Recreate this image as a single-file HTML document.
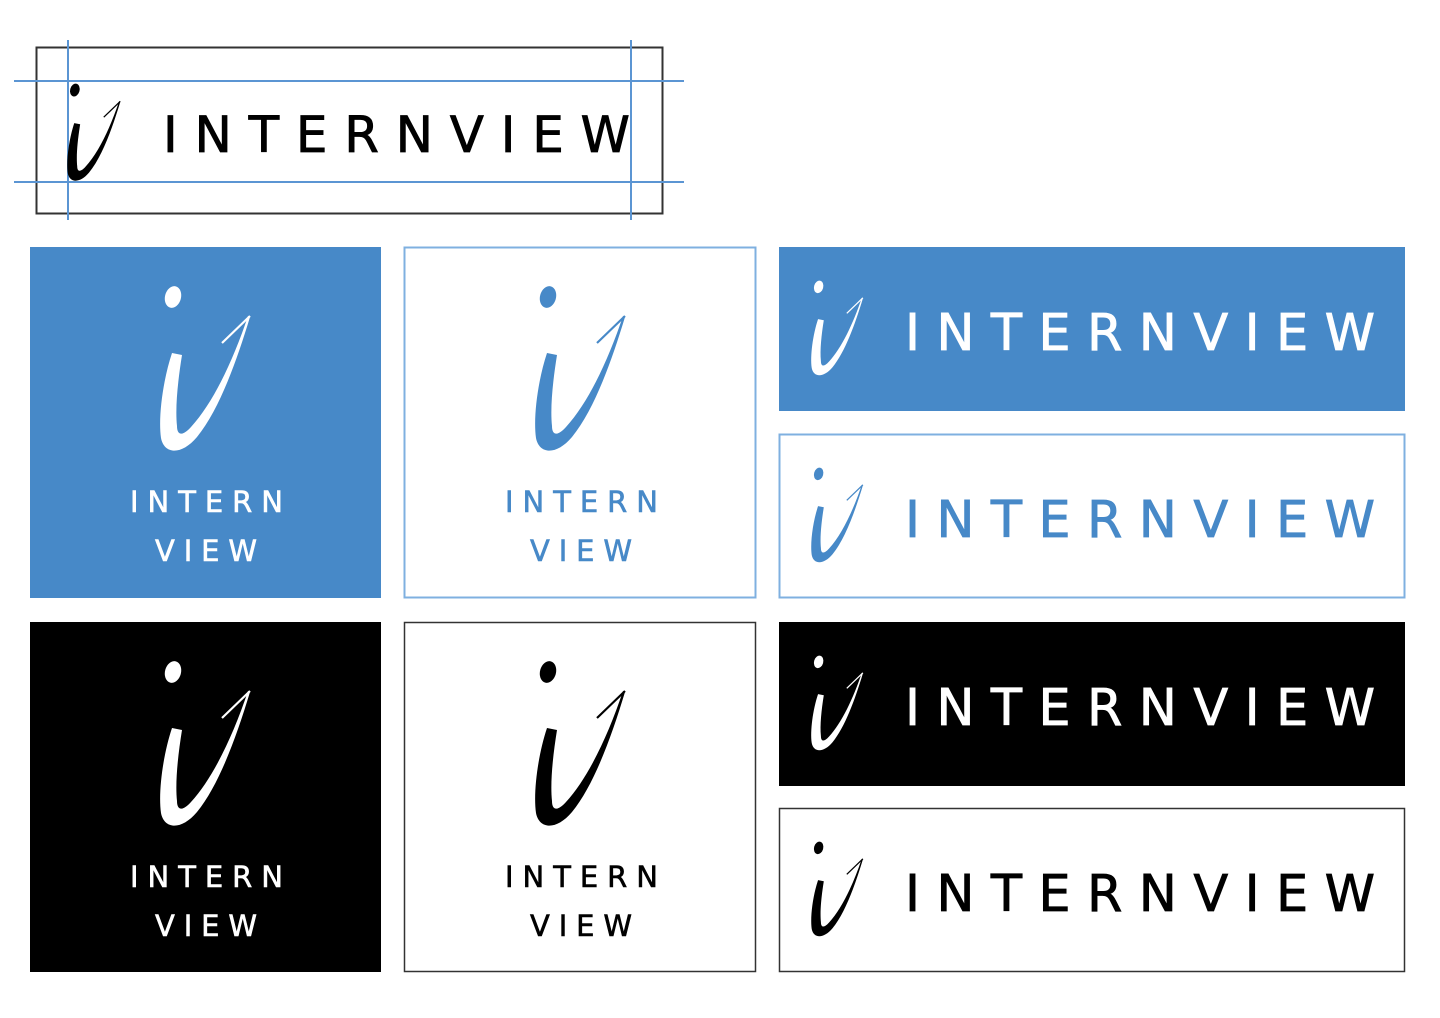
<!DOCTYPE html>
<html><head><meta charset="utf-8"><style>html,body{margin:0;padding:0;background:#fff}svg{display:block}</style></head>
<body>
<svg width="1440" height="1018" viewBox="0 0 1440 1018" xmlns="http://www.w3.org/2000/svg">
<defs>
<symbol id="g" overflow="visible">
  <ellipse cx="15" cy="12" rx="8" ry="11" transform="rotate(15 15 12)"/>
  <path d="M14 68 C5 95 0 132 3 153 C6 169 23 171 39 152 C61 125 78 78 92 32 L90 31 C75 76 55 118 33 142 C24 152 19 150 19 141 C17 122 20 95 24 70 Z"/>
  <path d="M92 31 L64 58" fill="none" stroke-width="2.2" stroke="currentColor"/>
</symbol>
</defs>
<style>
.t{font-family:"DejaVu Sans","Liberation Sans",sans-serif;}
</style>

<rect x="36.5" y="47.5" width="626" height="166" fill="none" stroke="#333" stroke-width="2"/>
<g stroke="#5b95d3" stroke-width="2">
<line x1="14" y1="81" x2="684" y2="81"/><line x1="14" y1="182" x2="684" y2="182"/>
<line x1="68" y1="40" x2="68" y2="220"/><line x1="631" y1="40" x2="631" y2="220"/>
</g>
<g fill="#000" color="#000" transform="translate(66,83) scale(0.59)"><use href="#g"/></g>
<text class="t" x="163" y="152" font-size="50" textLength="467" lengthAdjust="spacing" stroke="#000" stroke-width="0.8">INTERNVIEW</text>

<rect x="30" y="247" width="351" height="351" fill="#4789c8"/>
<rect x="404.5" y="247.5" width="351" height="350" fill="#fff" stroke="#7fb0e0" stroke-width="2"/>
<rect x="30" y="622" width="351" height="350" fill="#000"/>
<rect x="404.5" y="622.5" width="351" height="349" fill="#fff" stroke="#333" stroke-width="1.5"/>

<g fill="#fff" color="#fff" transform="translate(158,285)"><use href="#g"/></g>
<g fill="#4789c8" color="#4789c8" transform="translate(533,285)"><use href="#g"/></g>
<g fill="#fff" color="#fff" transform="translate(158,660)"><use href="#g"/></g>
<g fill="#000" color="#000" transform="translate(533,660)"><use href="#g"/></g>

<g class="t" font-size="29" stroke-width="0.6">
<text x="130" y="512" fill="#fff" stroke="#fff" textLength="153" lengthAdjust="spacing">INTERN</text>
<text x="155" y="561" fill="#fff" stroke="#fff" textLength="102" lengthAdjust="spacing">VIEW</text>
<text x="505" y="512" fill="#4789c8" stroke="#4789c8" textLength="153" lengthAdjust="spacing">INTERN</text>
<text x="530" y="561" fill="#4789c8" stroke="#4789c8" textLength="102" lengthAdjust="spacing">VIEW</text>
<text x="130" y="887" fill="#fff" stroke="#fff" textLength="153" lengthAdjust="spacing">INTERN</text>
<text x="155" y="936" fill="#fff" stroke="#fff" textLength="102" lengthAdjust="spacing">VIEW</text>
<text x="505" y="887" fill="#000" stroke="#000" textLength="153" lengthAdjust="spacing">INTERN</text>
<text x="530" y="936" fill="#000" stroke="#000" textLength="102" lengthAdjust="spacing">VIEW</text>
</g>

<rect x="779" y="247" width="626" height="164" fill="#4789c8"/>
<rect x="779.5" y="434.5" width="625" height="163" fill="#fff" stroke="#7fb0e0" stroke-width="2"/>
<rect x="779" y="622" width="626" height="164" fill="#000"/>
<rect x="779.5" y="808.5" width="625" height="163" fill="#fff" stroke="#333" stroke-width="1.5"/>

<g fill="#fff" color="#fff" transform="translate(810,280) scale(0.575)"><use href="#g"/></g>
<g fill="#4789c8" color="#4789c8" transform="translate(810,467) scale(0.575)"><use href="#g"/></g>
<g fill="#fff" color="#fff" transform="translate(810,655) scale(0.575)"><use href="#g"/></g>
<g fill="#000" color="#000" transform="translate(810,841) scale(0.575)"><use href="#g"/></g>

<g class="t" font-size="51" stroke-width="0.8">
<text x="905" y="350" fill="#fff" stroke="#fff" textLength="470" lengthAdjust="spacing">INTERNVIEW</text>
<text x="905" y="537" fill="#4789c8" stroke="#4789c8" textLength="470" lengthAdjust="spacing">INTERNVIEW</text>
<text x="905" y="725" fill="#fff" stroke="#fff" textLength="470" lengthAdjust="spacing">INTERNVIEW</text>
<text x="905" y="911" fill="#000" stroke="#000" textLength="470" lengthAdjust="spacing">INTERNVIEW</text>
</g>
</svg>
</body></html>
